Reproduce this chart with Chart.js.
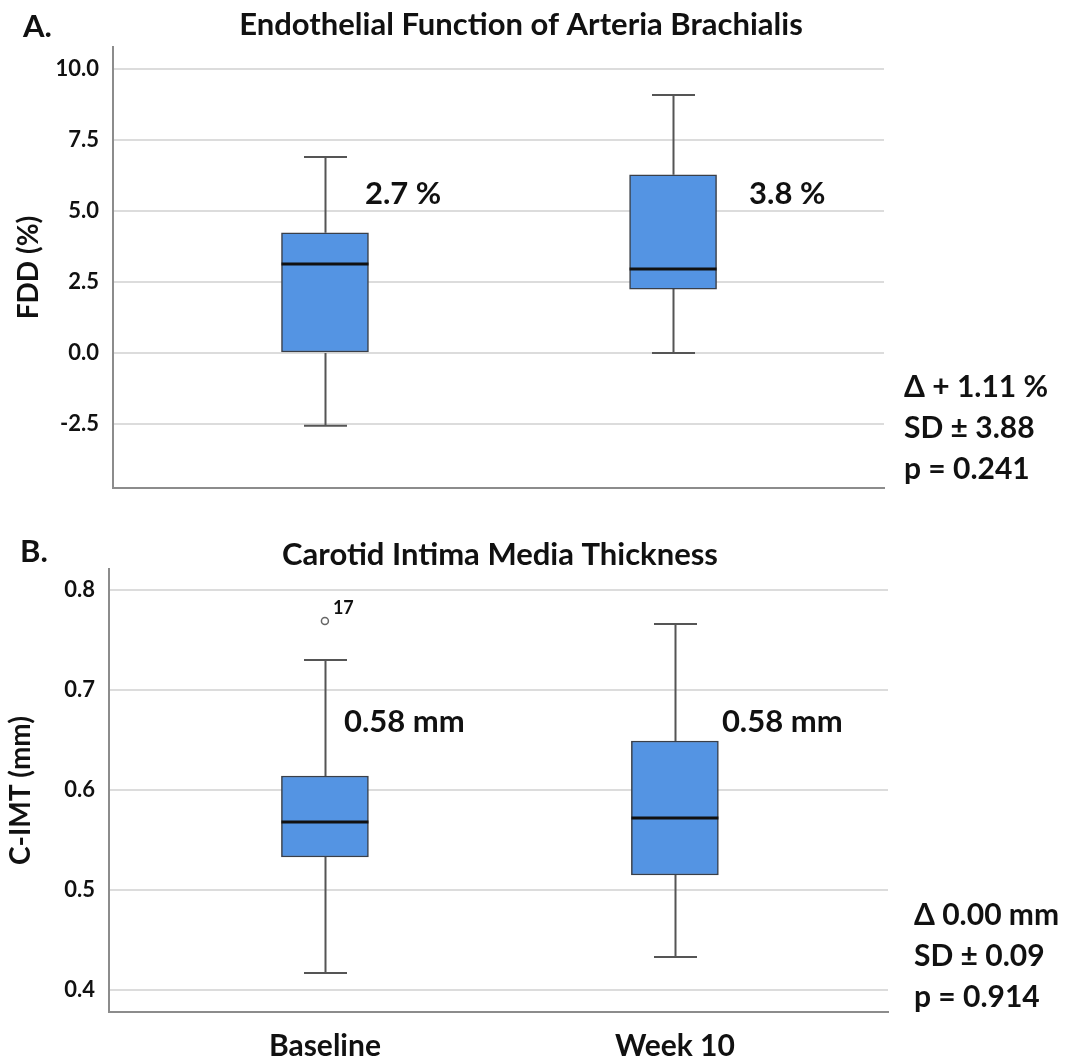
<!DOCTYPE html>
<html>
<head>
<meta charset="utf-8">
<script src="https://cdn.jsdelivr.net/npm/chart.js@4.4.1/dist/chart.umd.min.js"></script>
<style>
  body { margin: 0; background: #fff; }
  .panel { position: absolute; left: 0; width: 1074px; }
  #wrapA { top: 0; height: 500px; }
  #wrapB { top: 500px; height: 561px; }
</style>
</head>
<body>
<div id="wrapA" class="panel"><canvas id="chartA"></canvas></div>
<div id="wrapB" class="panel"><canvas id="chartB"></canvas></div>
<script>
var groups = ['Baseline', 'Week 10'];

// A. FDD (%)
var fddLow = [-2.56, 0.0];
var fddQ1 = [0.0, 2.25];
var fddMedian = [3.13, 2.96];
var fddQ3 = [4.23, 6.27];
var fddHigh = [6.9, 9.08];
var fddTicks = [-2.5, 0, 2.5, 5, 7.5, 10];
var fddMeanLabels = ['2.7 %', '3.8 %'];
var fddStats = ['\u0394 + 1.11 %', 'SD \u00b1 3.88', 'p = 0.241'];

// B. C-IMT (mm)
var imtLow = [0.417, 0.433];
var imtQ1 = [0.533, 0.515];
var imtMedian = [0.568, 0.572];
var imtQ3 = [0.614, 0.649];
var imtHigh = [0.730, 0.766];
var imtOutlier = [0.769, null];
var imtOutlierId = ['17', null];
var imtTicks = [0.4, 0.5, 0.6, 0.7, 0.8];
var imtMeanLabels = ['0.58 mm', '0.58 mm'];
var imtStats = ['\u0394 0.00 mm', 'SD \u00b1 0.09', 'p = 0.914'];

Chart.defaults.font.family = 'Lato, "Open Sans", sans-serif';
Chart.defaults.font.weight = 'bold';
Chart.defaults.color = '#111';

var boxPlot = {
  id: 'boxPlot',
  beforeDatasetsDraw: function(chart) {
    var ds = chart.data.datasets[0];
    var y = chart.scales.y;
    var ctx = chart.ctx;
    chart.getDatasetMeta(0).data.forEach(function(bar, i) {
      var cx = Math.round(bar.x) + 0.5;
      var cap = 21.5;
      ctx.save();
      ctx.strokeStyle = '#555';
      ctx.lineWidth = 2;
      ctx.beginPath();
      ctx.moveTo(cx, y.getPixelForValue(ds.q3[i]));
      ctx.lineTo(cx, y.getPixelForValue(ds.high[i]));
      ctx.moveTo(cx - cap, y.getPixelForValue(ds.high[i]));
      ctx.lineTo(cx + cap, y.getPixelForValue(ds.high[i]));
      ctx.moveTo(cx, y.getPixelForValue(ds.q1[i]));
      ctx.lineTo(cx, y.getPixelForValue(ds.low[i]));
      ctx.moveTo(cx - cap, y.getPixelForValue(ds.low[i]));
      ctx.lineTo(cx + cap, y.getPixelForValue(ds.low[i]));
      ctx.stroke();
      ctx.restore();
    });
  },
  afterDatasetsDraw: function(chart) {
    var ds = chart.data.datasets[0];
    var y = chart.scales.y;
    var ctx = chart.ctx;
    chart.getDatasetMeta(0).data.forEach(function(bar, i) {
      var half = bar.width / 2;
      var my = y.getPixelForValue(ds.median[i]);
      ctx.save();
      ctx.strokeStyle = '#111';
      ctx.lineWidth = 3;
      ctx.beginPath();
      ctx.moveTo(bar.x - half, my);
      ctx.lineTo(bar.x + half, my);
      ctx.stroke();
      if (ds.outlier && ds.outlier[i] != null) {
        var oy = y.getPixelForValue(ds.outlier[i]);
        ctx.strokeStyle = '#666';
        ctx.lineWidth = 1.5;
        ctx.beginPath();
        ctx.arc(bar.x, oy, 3.5, 0, Math.PI * 2);
        ctx.stroke();
        ctx.fillStyle = '#111';
        ctx.font = 'bold 18px Lato';
        ctx.fillText(ds.outlierId[i], bar.x + 8, oy - 7);
      }
      ctx.restore();
    });
  }
};

function makeText(cfg) {
  return {
    id: 'texts',
    afterDraw: function(chart) {
      var ctx = chart.ctx;
      var bars = chart.getDatasetMeta(0).data;
      ctx.save();
      ctx.fillStyle = '#111';
      ctx.textBaseline = 'alphabetic';
      ctx.font = 'bold 31px Lato';
      ctx.textAlign = 'center';
      ctx.fillText(cfg.title, cfg.titleX, cfg.titleY);
      ctx.textAlign = 'left';
      ctx.fillText(cfg.letter, cfg.letterX, cfg.letterY);
      ctx.font = 'bold 31px Lato';
      cfg.means.forEach(function(t, i) {
        ctx.fillText(t, bars[i].x + cfg.meanDx[i], cfg.meanY);
      });
      ctx.font = 'bold 30px Lato';
      cfg.stats.forEach(function(t, i) {
        ctx.fillText(t, cfg.statsX, cfg.statsY + i * 41);
      });
      ctx.restore();
    }
  };
}

function makeChart(id, p) {
  return new Chart(document.getElementById(id), {
    type: 'bar',
    data: {
      datasets: [{
        data: groups.map(function(g, i) { return { x: i + 1, y: [p.q1[i], p.q3[i]] }; }),
        backgroundColor: '#5494e3',
        borderColor: '#3a3f48',
        borderWidth: 1.5,
        borderSkipped: false,
        barThickness: 87,
        low: p.low, q1: p.q1, median: p.median, q3: p.q3, high: p.high,
        outlier: p.outlier, outlierId: p.outlierId
      }]
    },
    options: {
      responsive: true,
      maintainAspectRatio: false,
      animation: false,
      layout: { padding: p.padding },
      plugins: { legend: { display: false }, tooltip: { enabled: false } },
      scales: {
        x: {
          type: 'linear',
          offset: false,
          min: p.xMin,
          max: p.xMax,
          afterBuildTicks: function(a) { a.ticks = [{ value: 1 }, { value: 2 }]; },
          afterFit: function(s) { s.height = p.xHeight; },
          grid: { display: false, drawTicks: false },
          border: { display: true, color: '#8c8c8c', width: 2 },
          ticks: {
            display: p.showX,
            padding: 16,
            font: { size: 30, weight: 'bold' },
            color: '#111',
            callback: function(v, i) { return groups[i]; }
          }
        },
        y: {
          min: p.min,
          max: p.max,
          afterBuildTicks: function(a) { a.ticks = p.ticks.map(function(v) { return { value: v }; }); },
          afterFit: function(s) { s.width = p.yWidth; s.paddingTop = 0; s.paddingBottom = 0; },
          grid: { color: '#dcdcdc', lineWidth: 2, drawTicks: false },
          border: { display: true, color: '#8c8c8c', width: 2 },
          ticks: {
            padding: 14,
            font: { size: 22, weight: 'bold' },
            color: '#111',
            callback: function(v) { return v.toFixed(1); }
          },
          title: {
            display: true,
            text: p.yTitle,
            font: { size: 28, weight: 'bold' },
            color: '#111',
            padding: { top: p.titlePad, bottom: 0 }
          }
        }
      }
    },
    plugins: [boxPlot, makeText(p.text)]
  });
}

makeChart('chartA', {
  low: fddLow, q1: fddQ1, median: fddMedian, q3: fddQ3, high: fddHigh,
  min: -4.75, max: 10.77, ticks: fddTicks, xMin: 0.391, xMax: 2.606,
  padding: { left: 0, top: 47, right: 190, bottom: 12 },
  xHeight: 0, showX: false, yWidth: 113, yTitle: 'FDD (%)', titlePad: 12,
  text: {
    title: 'Endothelial Function of Arteria Brachialis', titleX: 521, titleY: 35,
    letter: 'A.', letterX: 23, letterY: 37,
    means: fddMeanLabels, meanDx: [40, 76], meanY: 204,
    stats: fddStats, statsX: 904, statsY: 397
  }
});

makeChart('chartB', {
  low: imtLow, q1: imtQ1, median: imtMedian, q3: imtQ3, high: imtHigh,
  outlier: imtOutlier, outlierId: imtOutlierId,
  min: 0.378, max: 0.821, ticks: imtTicks, xMin: 0.383, xMax: 2.609,
  padding: { left: 0, top: 69, right: 186, bottom: 0 },
  xHeight: 49, showX: true, yWidth: 109, yTitle: 'C-IMT (mm)', titlePad: 4,
  text: {
    title: 'Carotid Intima Media Thickness', titleX: 500, titleY: 65,
    letter: 'B.', letterX: 20, letterY: 62,
    means: imtMeanLabels, meanDx: [19, 47], meanY: 232,
    stats: imtStats, statsX: 914, statsY: 425
  }
});
</script>
</body>
</html>
